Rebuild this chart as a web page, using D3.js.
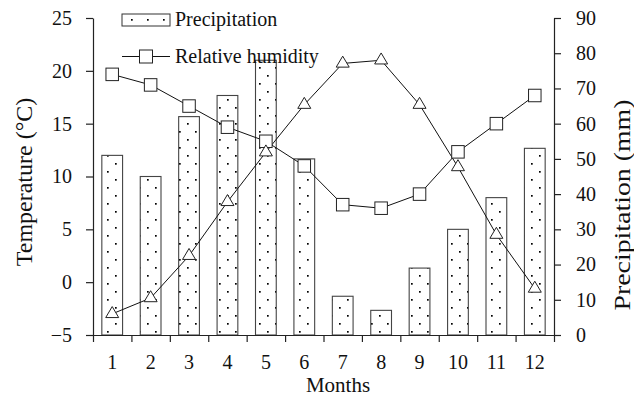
<!DOCTYPE html>
<html>
<head>
<meta charset="utf-8">
<script src="https://cdn.jsdelivr.net/npm/d3@7"></script>
<style>
  body { margin: 0; background: #fff; }
  svg { display: block; }
  svg text { font-family: "Liberation Serif", "Times New Roman", "DejaVu Serif", "Noto Serif", serif !important; }
</style>
</head>
<body>
<div id="chart"></div>
<script>
const months = [1, 2, 3, 4, 5, 6, 7, 8, 9, 10, 11, 12];
const precipitation = [51, 45, 62, 68, 78, 50, 11, 7, 19, 30, 39, 53];
const humidity = [74, 71, 65, 59, 55, 48, 37, 36, 40, 52, 60, 68];
const temperature = [-3, -1.5, 2.5, 7.6, 12.3, 16.8, 20.7, 21, 16.8, 10.9, 4.5, -0.6];
const tempTicks = [-5, 0, 5, 10, 15, 20, 25];
const precTicks = [0, 10, 20, 30, 40, 50, 60, 70, 80, 90];

const width = 634, height = 396;
const plotL = 93, plotR = 554, plotT = 18, plotB = 335;

const svg = d3.select('#chart').append('svg')
    .attr('width', width)
    .attr('height', height);

// dotted fill for the bars
const pat = svg.append('defs').append('pattern')
    .attr('id', 'dots')
    .attr('patternUnits', 'userSpaceOnUse')
    .attr('width', 16)
    .attr('height', 16);
pat.append('rect').attr('width', 16).attr('height', 16).attr('fill', '#fff');
pat.append('rect').attr('x', 3).attr('y', 3).attr('width', 1.7).attr('height', 1.7).attr('fill', '#000');
pat.append('rect').attr('x', 11).attr('y', 11).attr('width', 1.7).attr('height', 1.7).attr('fill', '#000');

const x = d3.scaleBand().domain(months).range([plotL, plotR]).paddingInner(0.46).paddingOuter(0.23);
const xEdge = d3.scaleLinear().domain([0, 12]).range([plotL, plotR]);
const yTemp = d3.scaleLinear().domain([-5, 25]).range([plotB, plotT]);
const yPrec = d3.scaleLinear().domain([0, 90]).range([plotB, plotT]);
const cx = d => x(d) + x.bandwidth() / 2;

// bars
svg.append('g')
    .selectAll('rect')
    .data(months)
    .join('rect')
    .attr('x', d => x(d))
    .attr('y', (d, i) => yPrec(precipitation[i]))
    .attr('width', x.bandwidth())
    .attr('height', (d, i) => plotB - yPrec(precipitation[i]))
    .attr('fill', 'url(#dots)')
    .attr('stroke', '#444')
    .attr('stroke-width', 1.1);

// axes
const styleAxis = g => {
    g.select('.domain').attr('stroke', '#222').attr('stroke-width', 1.2);
    g.selectAll('.tick line').attr('stroke', '#222').attr('stroke-width', 1.2);
    g.selectAll('text').attr('font-size', 20).attr('fill', '#111');
};

svg.append('g')
    .attr('transform', `translate(${plotL},0)`)
    .call(d3.axisLeft(yTemp).tickValues(tempTicks).tickSize(7).tickSizeOuter(0).tickPadding(14))
    .call(styleAxis);

svg.append('g')
    .attr('transform', `translate(${plotR},0)`)
    .call(d3.axisRight(yPrec).tickValues(precTicks).tickSize(7).tickSizeOuter(0).tickPadding(15))
    .call(styleAxis);

svg.append('g')
    .attr('transform', `translate(0,${plotB})`)
    .call(d3.axisBottom(xEdge).ticks(12).tickSize(7).tickSizeOuter(0).tickFormat(''))
    .call(styleAxis);

svg.append('g')
    .attr('transform', `translate(0,${plotB})`)
    .call(d3.axisBottom(x).tickSize(0).tickPadding(20))
    .call(g => g.select('.domain').remove())
    .call(styleAxis);

// lines
const lineH = d3.line().x((d, i) => cx(months[i])).y(d => yPrec(d));
const lineT = d3.line().x((d, i) => cx(months[i])).y(d => yTemp(d));

svg.append('path')
    .datum(humidity)
    .attr('d', lineH)
    .attr('fill', 'none')
    .attr('stroke', '#111')
    .attr('stroke-width', 1);

svg.append('path')
    .datum(temperature)
    .attr('d', lineT)
    .attr('fill', 'none')
    .attr('stroke', '#111')
    .attr('stroke-width', 1);

const sq = 12.5;
svg.append('g')
    .selectAll('rect')
    .data(humidity)
    .join('rect')
    .attr('x', (d, i) => cx(months[i]) - sq / 2)
    .attr('y', d => yPrec(d) - sq / 2)
    .attr('width', sq)
    .attr('height', sq)
    .attr('fill', '#fff')
    .attr('stroke', '#222')
    .attr('stroke-width', 1);

const tri = 'M0,-7.3L6.5,3.7L-6.5,3.7Z';
svg.append('g')
    .selectAll('path')
    .data(temperature)
    .join('path')
    .attr('d', tri)
    .attr('transform', (d, i) => `translate(${cx(months[i])},${yTemp(d)})`)
    .attr('fill', '#fff')
    .attr('stroke', '#222')
    .attr('stroke-width', 1);

// legend
const legend = svg.append('g').attr('font-size', 20).attr('fill', '#111');
legend.append('rect')
    .attr('x', 122).attr('y', 14).attr('width', 48).attr('height', 12)
    .attr('fill', 'url(#dots)').attr('stroke', '#333').attr('stroke-width', 1);
legend.append('text').attr('x', 175).attr('y', 26).text('Precipitation');
legend.append('line')
    .attr('x1', 122).attr('x2', 170).attr('y1', 56.5).attr('y2', 56.5)
    .attr('stroke', '#111');
legend.append('rect')
    .attr('x', 146 - 6.5).attr('y', 50).attr('width', 13).attr('height', 13)
    .attr('fill', '#fff').attr('stroke', '#222');
legend.append('text').attr('x', 175).attr('y', 62.5).text('Relative humidity');

// axis titles
svg.append('text')
    .attr('transform', 'translate(32,182) rotate(-90)')
    .attr('text-anchor', 'middle')
    .attr('font-size', 24)
    .attr('fill', '#111')
    .text('Temperature (°C)');

svg.append('text')
    .attr('transform', 'translate(630,205) rotate(-90)')
    .attr('text-anchor', 'middle')
    .attr('font-size', 24)
    .attr('textLength', 211)
    .attr('lengthAdjust', 'spacingAndGlyphs')
    .attr('fill', '#111')
    .text('Precipitation (mm)');

svg.append('text')
    .attr('x', 338)
    .attr('y', 392)
    .attr('text-anchor', 'middle')
    .attr('font-size', 21)
    .attr('fill', '#111')
    .text('Months');
</script>
</body>
</html>
